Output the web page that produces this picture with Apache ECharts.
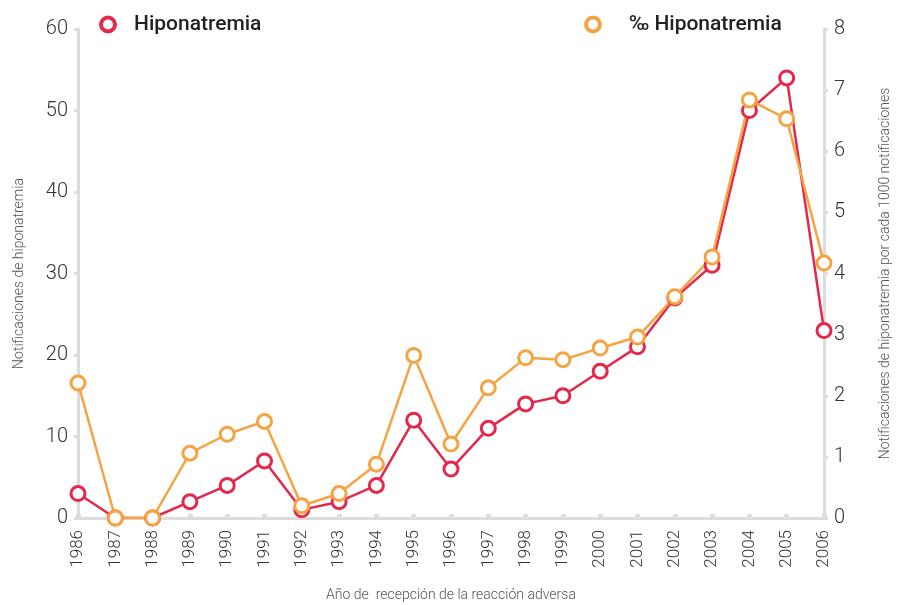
<!DOCTYPE html>
<html>
<head>
<meta charset="utf-8">
<title>Hiponatremia</title>
<script src="https://cdn.jsdelivr.net/npm/echarts@6/dist/echarts.min.js"></script>
<style>
html, body { margin: 0; padding: 0; background: #fff; }
#chart { width: 906px; height: 605px; }
</style>
</head>
<body>
<div id="chart"></div>
<script>
// años de recepción
var years = ['1986','1987','1988','1989','1990','1991','1992','1993','1994','1995','1996',
             '1997','1998','1999','2000','2001','2002','2003','2004','2005','2006'];
// notificaciones de hiponatremia (eje izquierdo)
var casos = [3, 0, 0, 2, 4, 7, 1, 2, 4, 12, 6, 11, 14, 15, 18, 21, 27, 31, 50, 54, 23];
// por cada 1000 notificaciones (eje derecho)
var porMil = [2.21, 0, 0, 1.06, 1.37, 1.58, 0.2, 0.4, 0.88, 2.66, 1.21, 2.13, 2.62, 2.59,
              2.78, 2.96, 3.62, 4.27, 6.84, 6.53, 4.17];

var rojo = '#e3284b';
var naranja = '#f5a443';
var gris = '#dcdcdc';
var fuente = 'Roboto';

var chart = echarts.init(document.getElementById('chart'));

var ejeY = function (max, interval, name, pos) {
    return {
        type: 'value',
        position: pos,
        min: 0, max: max, interval: interval,
        name: name,
        nameLocation: 'middle',
        nameGap: pos == 'left' ? 52 : 54,
        nameTextStyle: { color: '#555', fontSize: 14, fontFamily: fuente, fontWeight: 300 },
        axisLine: { show: true, lineStyle: { color: gris, width: 3 } },
        axisTick: { show: true, length: 4, lineStyle: { color: gris, width: 3 } },
        axisLabel: { color: '#333', fontSize: 20, fontFamily: fuente, fontWeight: 300, margin: 10 },
        splitLine: { show: false }
    };
};

var leyenda = function (name, left, pad) {
    return {
        data: [name],
        left: left, top: 9,
        icon: 'circle',
        itemWidth: 18, itemHeight: 14,
        itemGap: 10,
        itemStyle: { borderWidth: 4 },
        textStyle: { color: '#222', fontSize: 21, fontFamily: fuente, fontWeight: 500, padding: [0, 0, 0, pad] }
    };
};

chart.setOption({
    animation: false,
    grid: { left: 78, right: 82, top: 29, bottom: 87, outerBoundsMode: 'none' },
    legend: [leyenda('Hiponatremia', 94, 12), leyenda('‰ Hiponatremia', 579, 22)],
    xAxis: {
        type: 'category',
        data: years,
        boundaryGap: false,
        name: 'Año de  recepción de la reacción adversa',
        nameLocation: 'middle',
        nameGap: 70,
        nameTextStyle: { color: '#555', fontSize: 14, fontFamily: fuente, fontWeight: 300 },
        axisLine: { lineStyle: { color: gris, width: 3 } },
        axisTick: { show: true, length: 4, inside: true, lineStyle: { color: gris, width: 5 } },
        axisLabel: { rotate: 90, color: '#333', fontSize: 17, fontFamily: fuente, fontWeight: 300, margin: 12, interval: 0 }
    },
    yAxis: [
        ejeY(60, 10, 'Notificaciones de hiponatremia', 'left'),
        ejeY(8, 1, 'Notificaciones de hiponatremia por cada 1000 notificaciones', 'right')
    ],
    series: [{
        name: 'Hiponatremia',
        type: 'line',
        yAxisIndex: 0,
        data: casos,
        symbol: 'circle',
        symbolSize: 14,
        lineStyle: { color: rojo, width: 2.5 },
        itemStyle: { color: '#fff', borderColor: rojo, borderWidth: 3 }
    }, {
        name: '‰ Hiponatremia',
        type: 'line',
        yAxisIndex: 1,
        data: porMil,
        symbol: 'circle',
        symbolSize: 14,
        lineStyle: { color: naranja, width: 2.5 },
        itemStyle: { color: '#fff', borderColor: naranja, borderWidth: 3 }
    }]
});
</script>
</body>
</html>
